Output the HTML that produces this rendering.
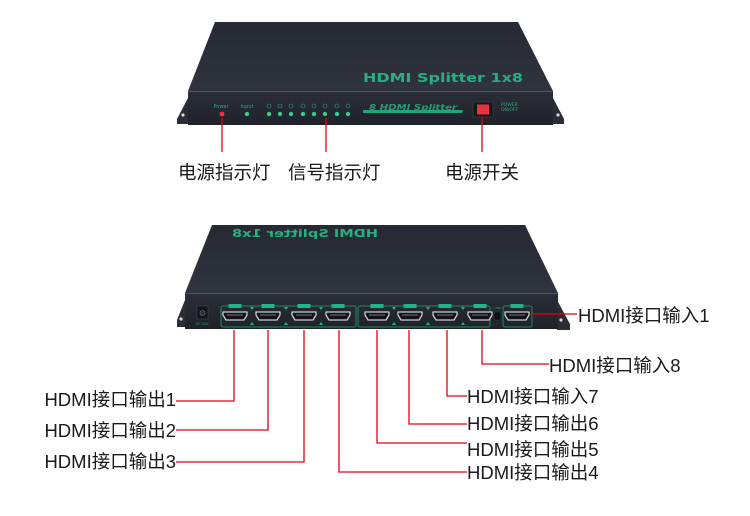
<!DOCTYPE html>
<html>
<head>
<meta charset="utf-8">
<style>
html,body{margin:0;padding:0;background:#fff;}
body{width:750px;height:516px;overflow:hidden;position:relative;}
svg{position:absolute;left:0;top:0;}
.lbl{font-family:"Liberation Sans","Noto Sans CJK SC",sans-serif;font-size:18.5px;fill:#1a1a1a;}
.g{font-family:"DejaVu Sans","Liberation Sans",sans-serif;fill:#27b07f;}
</style>
</head>
<body>
<svg width="750" height="516" viewBox="0 0 750 516" xmlns="http://www.w3.org/2000/svg">
<defs>
<linearGradient id="tg" x1="0" y1="0" x2="0" y2="1">
<stop offset="0" stop-color="#262933"/>
<stop offset="1" stop-color="#30343f"/>
</linearGradient>
<linearGradient id="fg" x1="0" y1="0" x2="0" y2="1">
<stop offset="0" stop-color="#2a2e38"/>
<stop offset="1" stop-color="#1f2229"/>
</linearGradient>
</defs>

<!-- ========== TOP DEVICE ========== -->
<polygon points="215,22 518,22 553,91 188,91" fill="url(#tg)"/>
<polygon points="188,98 177,119 177,124 188,124" fill="#2a2d36"/>
<polygon points="553,98 564,119 564,124 553,124" fill="#2a2d36"/>
<circle cx="183" cy="115" r="1.6" fill="#d8d8d8"/>
<circle cx="558" cy="115" r="1.6" fill="#d8d8d8"/>
<rect x="188" y="91" width="365" height="34" fill="url(#fg)"/>
<line x1="188" y1="91.5" x2="553" y2="91.5" stroke="#4d525e" stroke-width="1"/>
<text class="g" x="363" y="82" font-size="12" font-weight="bold" textLength="160" lengthAdjust="spacingAndGlyphs">HDMI Splitter 1x8</text>

<text class="g" x="221" y="108" font-size="5" text-anchor="middle">Power</text>
<text class="g" x="247" y="108" font-size="5" text-anchor="middle">Input</text>
<circle cx="222" cy="114" r="2.4" fill="#ff2b3c"/>
<circle cx="247" cy="114" r="2.3" fill="#3fcf94" stroke="#0d4a35" stroke-width="0.6"/>
<g fill="#3fcf94" stroke="#0d4a35" stroke-width="0.6">
<circle cx="269" cy="114" r="2.3"/><circle cx="280" cy="114" r="2.3"/><circle cx="291" cy="114" r="2.3"/><circle cx="303" cy="114" r="2.3"/>
<circle cx="314" cy="114" r="2.3"/><circle cx="325" cy="114" r="2.3"/><circle cx="337" cy="114" r="2.3"/><circle cx="348" cy="114" r="2.3"/>
</g>
<g fill="none" stroke="#2aa37a" stroke-width="0.6">
<circle cx="269" cy="106" r="2"/><circle cx="280" cy="106" r="2"/><circle cx="291" cy="106" r="2"/><circle cx="303" cy="106" r="2"/>
<circle cx="314" cy="106" r="2"/><circle cx="325" cy="106" r="2"/><circle cx="337" cy="106" r="2"/><circle cx="348" cy="106" r="2"/>
</g>
<polygon points="363,110 463,110 462,113 363,113" fill="#22a57a"/>
<text class="g" x="369" y="110" font-size="8" font-weight="bold" font-style="italic" fill="#1f8a66" textLength="88" lengthAdjust="spacingAndGlyphs" style="fill:#2a9a72">8 HDMI Splitter</text>

<rect x="473" y="102" width="20" height="15" fill="#15171c" stroke="#3a3d45" stroke-width="0.8"/>
<rect x="477" y="104.5" width="12" height="10" fill="#e8323f"/>
<text class="g" x="501" y="106" font-size="4.5">POWER</text>
<text class="g" x="501" y="111" font-size="4.5">ON/OFF</text>

<!-- top leader lines -->
<g stroke="#e60012" stroke-width="1.3" fill="none">
<line x1="222" y1="118" x2="222" y2="152"/>
<line x1="326" y1="118" x2="326" y2="152"/>
<line x1="482" y1="117" x2="482" y2="152"/>
</g>
<text class="lbl" x="178" y="179">电源指示灯</text>
<text class="lbl" x="288" y="179">信号指示灯</text>
<text class="lbl" x="445" y="179">电源开关</text>

<!-- ========== BOTTOM DEVICE ========== -->
<polygon points="212,225 525,225 558,293 185,293" fill="url(#tg)"/>
<polygon points="185,300 177,320 177,327 185,327" fill="#2a2d36"/>
<polygon points="557,300 570,324 570,330 557,330" fill="#2a2d36"/>
<circle cx="181" cy="319" r="1.6" fill="#d8d8d8"/>
<circle cx="561" cy="320" r="1.6" fill="#d8d8d8"/>
<rect x="185" y="293" width="373" height="36" fill="url(#fg)"/>
<line x1="185" y1="293.5" x2="558" y2="293.5" stroke="#4d525e" stroke-width="1"/>
<text class="g" transform="translate(305,237) scale(-1,1)" x="0" y="0" font-size="11" font-weight="bold" text-anchor="middle" textLength="146" lengthAdjust="spacingAndGlyphs">HDMI Splitter 1x8</text>

<!-- DC jack -->
<rect x="197" y="306" width="11" height="13" fill="#14161b" stroke="#45484f" stroke-width="0.6"/>
<circle cx="202.5" cy="313" r="2.5" fill="#2b2e35" stroke="#777" stroke-width="0.6"/>
<text class="g" x="202" y="325" font-size="3.5" text-anchor="middle">DC 12V</text>

<!-- port groups -->
<g fill="none" stroke="#1f8a66" stroke-width="1">
<rect x="221" y="306" width="135" height="21" rx="2"/>
<rect x="358" y="306" width="132" height="21" rx="2"/>
<rect x="503" y="306" width="29" height="21" rx="2"/>
</g>
<g fill="#22b389">
<rect x="228.5" y="304" width="13" height="4"/><rect x="261.5" y="304" width="13" height="4"/>
<rect x="297.5" y="304" width="13" height="4"/><rect x="331.5" y="304" width="13" height="4"/>
<rect x="370.5" y="304" width="13" height="4"/><rect x="403.5" y="304" width="13" height="4"/>
<rect x="438.5" y="304" width="13" height="4"/><rect x="473.5" y="304" width="13" height="4"/>
<rect x="510.5" y="304" width="13" height="4"/>
<!-- triangles -->
<polygon points="250,307 254,307 252,310"/><polygon points="284,307 288,307 286,310"/><polygon points="319,307 323,307 321,310"/>
<polygon points="392,307 396,307 394,310"/><polygon points="426,307 430,307 428,310"/><polygon points="461,307 465,307 463,310"/>
<polygon points="250,325 254,325 252,322"/><polygon points="284,325 288,325 286,322"/><polygon points="319,325 323,325 321,322"/>
<polygon points="392,325 396,325 394,322"/><polygon points="426,325 430,325 428,322"/><polygon points="461,325 465,325 463,322"/>
</g>
<!-- HDMI ports -->
<g fill="#121318" stroke="#c9cdd2" stroke-width="1.3" stroke-linejoin="round">
<path d="M223,312 h24 v3 l-3,5 h-18 l-3,-5 z"/>
<path d="M256,312 h24 v3 l-3,5 h-18 l-3,-5 z"/>
<path d="M292,312 h24 v3 l-3,5 h-18 l-3,-5 z"/>
<path d="M326,312 h24 v3 l-3,5 h-18 l-3,-5 z"/>
<path d="M365,312 h24 v3 l-3,5 h-18 l-3,-5 z"/>
<path d="M398,312 h24 v3 l-3,5 h-18 l-3,-5 z"/>
<path d="M433,312 h24 v3 l-3,5 h-18 l-3,-5 z"/>
<path d="M468,312 h24 v3 l-3,5 h-18 l-3,-5 z"/>
<path d="M505,312 h24 v3 l-3,5 h-18 l-3,-5 z"/>
</g>
<g stroke="#8a8f96" stroke-width="0.8">
<line x1="227" y1="315" x2="243" y2="315"/><line x1="260" y1="315" x2="276" y2="315"/>
<line x1="296" y1="315" x2="312" y2="315"/><line x1="330" y1="315" x2="346" y2="315"/>
<line x1="369" y1="315" x2="385" y2="315"/><line x1="402" y1="315" x2="418" y2="315"/>
<line x1="437" y1="315" x2="453" y2="315"/><line x1="472" y1="315" x2="488" y2="315"/>
<line x1="509" y1="315" x2="525" y2="315"/>
</g>
<rect x="494" y="312" width="7" height="8" rx="2" fill="#0e0f12" stroke="#3a3d45" stroke-width="0.5"/>
<text class="g" x="497.5" y="309" font-size="3" text-anchor="middle">USB</text>

<!-- bottom leader lines -->
<g stroke="#e60012" stroke-width="1.3" fill="none">
<polyline points="176,401 234,401 234,330"/>
<polyline points="176,430 268,430 268,330"/>
<polyline points="176,462 304,462 304,330"/>
<polyline points="339,330 339,472 467,472"/>
<polyline points="377,330 377,443 467,443"/>
<polyline points="409,330 409,424 467,424"/>
<polyline points="447,330 447,396 467,396"/>
<polyline points="482,330 482,364 549,364"/>
<polyline points="532,314 577,314"/>
</g>

<text class="lbl" x="176" y="406" text-anchor="end">HDMI接口输出1</text>
<text class="lbl" x="176" y="437" text-anchor="end">HDMI接口输出2</text>
<text class="lbl" x="176" y="468" text-anchor="end">HDMI接口输出3</text>
<text class="lbl" x="578" y="322">HDMI接口输入1</text>
<text class="lbl" x="549" y="372">HDMI接口输入8</text>
<text class="lbl" x="467" y="403">HDMI接口输入7</text>
<text class="lbl" x="467" y="430">HDMI接口输出6</text>
<text class="lbl" x="467" y="456">HDMI接口输出5</text>
<text class="lbl" x="467" y="479">HDMI接口输出4</text>
</svg>
</body>
</html>
